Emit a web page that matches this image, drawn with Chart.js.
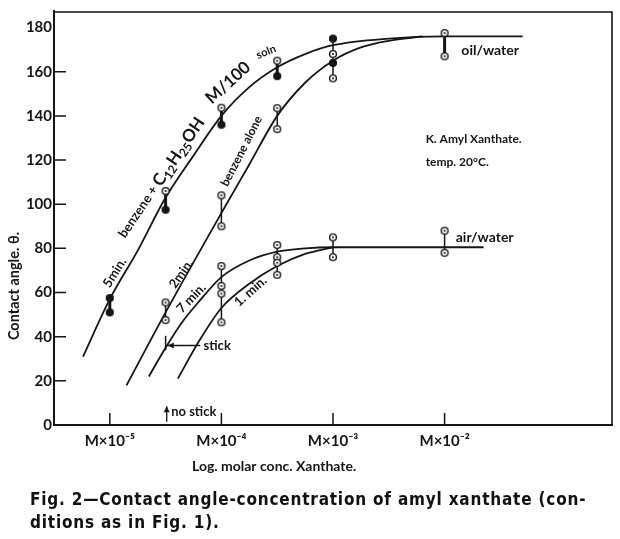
<!DOCTYPE html>
<html>
<head>
<meta charset="utf-8">
<script src="https://cdn.jsdelivr.net/npm/chart.js@4"></script>
<style>
  body { margin: 0; background: #fff; }
  #wrap { position: relative; width: 620px; height: 539px; }
  #caption {
    position: absolute; left: 30px; top: 488px;
    font: bold 17px "Liberation Sans Narrow", "DejaVu Sans Condensed", sans-serif;
    line-height: 23px; color: #111; letter-spacing: 0.8px; white-space: nowrap;
  }
</style>
</head>
<body>
<div id="wrap">
  <canvas id="angleChart" width="620" height="539"></canvas>
  <div id="caption">Fig. 2—Contact angle-concentration of amyl xanthate (con-<br>ditions as in Fig. 1).</div>
</div>
<script>
// x = log10 of molar conc. of xanthate, y = contact angle in degrees
const xTicks = [-5, -4, -3, -2];
const xTickLabels = ["M×10⁻⁵", "M×10⁻⁴", "M×10⁻³", "M×10⁻²"];
const yTicks = [0, 20, 40, 60, 80, 100, 120, 140, 160, 180];

// benzene + C12H25OH (M/100 soln), 5 min
const curve5minX = [-5.24, -5.0, -4.75, -4.5, -4.25, -4.0, -3.75, -3.5, -3.25, -3.0, -2.5, -2.0, -1.3];
const curve5minY = [31, 57, 79, 103, 122, 140, 153, 162, 168, 172, 175, 176, 176];
// benzene alone, 2 min
const curve2minX = [-4.85, -4.5, -4.0, -3.75, -3.5, -3.25, -3.0, -2.75, -2.5, -2.2];
const curve2minY = [18, 51, 96, 118, 140, 155, 165, 171, 174, 176];
// air/water, 7 min
const curve7minX = [-4.65, -4.5, -4.36, -4.2, -4.0, -3.75, -3.5, -3.25, -3.0, -2.0, -1.65];
const curve7minY = [22, 35, 46, 56, 67, 74.5, 78.5, 80, 80.5, 80.5, 80.5];
// air/water, 1 min
const curve1minX = [-4.39, -4.2, -4.0, -3.75, -3.5, -3.25, -3.0];
const curve1minY = [21, 38, 53, 64, 72, 77.5, 80.5];

// measured points
const filledX = [-5.0, -5.0, -4.5, -4.0, -3.5, -3.0, -3.0];
const filledY = [57.5, 51, 97.5, 136, 158, 175, 164];
const openX = [-4.5, -4.5, -4.5, -4.0, -4.0, -4.0, -4.0, -4.0, -4.0, -4.0,
               -3.5, -3.5, -3.5, -3.5, -3.5, -3.5, -3.5, -3.0, -3.0, -3.0, -3.0,
               -2.0, -2.0, -2.0, -2.0];
const openY = [106, 55.5, 47.5, 143.7, 104, 90, 72, 63, 59.5, 46.5,
               165, 143.5, 134, 81.5, 76, 73.5, 68, 168, 157, 85, 76,
               177.5, 167, 88, 78];

// vertical spread bars
const thickBarX = [-5.0, -4.5, -4.0, -3.5, -2.0];
const thickBarLow = [51, 97.5, 136, 158, 167];
const thickBarHigh = [57.5, 106, 143.7, 165, 177.5];
const thinBarX = [-3.0, -4.5, -4.0, -3.5, -4.0, -3.5, -3.0, -2.0, -4.5];
const thinBarLow = [157, 47.5, 90, 134, 46.5, 68, 76, 78, 33.8];
const thinBarHigh = [175, 55.5, 104, 143.5, 72, 81.5, 85, 88, 40.4];

const INK = "#151515";
const FONT = "Lato, 'DejaVu Sans', sans-serif";

function makeMarker(filled) {
  const c = document.createElement("canvas");
  c.width = 10; c.height = 10;
  const g = c.getContext("2d");
  g.beginPath(); g.arc(5, 5, 3.4, 0, Math.PI * 2);
  g.fillStyle = filled ? INK : "#fff"; g.fill();
  g.lineWidth = 1.4; g.strokeStyle = INK; g.stroke();
  if (!filled) {
    g.beginPath(); g.arc(5, 5, 1, 0, Math.PI * 2);
    g.fillStyle = INK; g.fill();
  }
  return c;
}

function pts(xs, ys) {
  return xs.map((x, i) => ({ x: x, y: ys[i] }));
}

function curve(xs, ys) {
  return {
    data: pts(xs, ys), showLine: true, pointRadius: 0,
    borderColor: INK, borderWidth: 1.8, cubicInterpolationMode: "monotone"
  };
}

function bars(xs, lows, highs, width) {
  return xs.map((x, i) => ({
    data: [{ x: x, y: lows[i] }, { x: x, y: highs[i] }],
    showLine: true, pointRadius: 0, borderColor: INK, borderWidth: width
  }));
}

const datasets = [
  { data: pts(filledX, filledY), pointStyle: makeMarker(true), pointRadius: 5 },
  { data: pts(openX, openY), pointStyle: makeMarker(false), pointRadius: 5 },
  ...bars(thickBarX, thickBarLow, thickBarHigh, 3),
  ...bars(thinBarX, thinBarLow, thinBarHigh, 1.5),
  curve(curve5minX, curve5minY),
  curve(curve2minX, curve2minY),
  curve(curve7minX, curve7minY),
  curve(curve1minX, curve1minY)
];

// rotated labels along the curves (in data coordinates)
const notes = [
  { parts: [["5min.", 13, 0]], x: -4.955, y: 69, rot: -58 },
  { parts: [["2min.", 13, 0]], x: -4.36, y: 68.5, rot: -55 },
  { parts: [["7 min.", 13, 0]], x: -4.27, y: 57.5, rot: -46 },
  { parts: [["1. min.", 13, 0]], x: -3.74, y: 60.5, rot: -42 },
  { parts: [["benzene alone", 12, 0]], x: -3.82, y: 124, rot: -63 },
  { parts: [["benzene + ", 13, 0], ["C", 17, 0], ["12", 12, 5], ["H", 17, 0], ["25", 12, 5], ["OH", 17, 0]],
    x: -4.54, y: 112, rot: -56 },
  { parts: [["M/100", 17, 0]], x: -3.94, y: 155, rot: -42 },
  { parts: [["soln", 11, 0]], x: -3.6, y: 169, rot: -22 }
];

function drawParts(ctx, parts) {
  let total = 0;
  parts.forEach(p => { ctx.font = "bold " + p[1] + "px " + FONT; total += ctx.measureText(p[0]).width; });
  let cx = -total / 2;
  parts.forEach(p => {
    ctx.font = "bold " + p[1] + "px " + FONT;
    ctx.fillText(p[0], cx, p[2]);
    cx += ctx.measureText(p[0]).width;
  });
}

const decorPlugin = {
  id: "decor",
  afterDatasetsDraw(chart) {
    const { ctx, chartArea: a, scales: { x, y } } = chart;
    ctx.save();
    ctx.strokeStyle = INK;
    ctx.fillStyle = INK;

    // top and right frame
    ctx.lineWidth = 1.6;
    ctx.beginPath();
    ctx.moveTo(a.left, a.top + 1); ctx.lineTo(a.right, a.top + 1); ctx.lineTo(a.right, a.bottom);
    ctx.stroke();

    // inward tick marks
    ctx.lineWidth = 1.5;
    ctx.beginPath();
    yTicks.forEach(v => {
      if (v === 0 || v === 180) return;
      const py = y.getPixelForValue(v);
      ctx.moveTo(a.left, py); ctx.lineTo(a.left + 12, py);
    });
    xTicks.forEach(v => {
      const px = x.getPixelForValue(v);
      ctx.moveTo(px, a.bottom); ctx.lineTo(px, a.bottom - 12);
    });
    ctx.stroke();

    // curve labels
    ctx.textAlign = "left";
    ctx.textBaseline = "middle";
    notes.forEach(n => {
      ctx.save();
      ctx.translate(x.getPixelForValue(n.x), y.getPixelForValue(n.y));
      ctx.rotate(n.rot * Math.PI / 180);
      drawParts(ctx, n.parts);
      ctx.restore();
    });

    ctx.font = "bold 14px " + FONT;
    ctx.fillText("oil/water", x.getPixelForValue(-1.85), y.getPixelForValue(169.5));
    ctx.fillText("air/water", x.getPixelForValue(-1.9), y.getPixelForValue(85));
    ctx.font = "bold 12px " + FONT;
    ctx.fillText("K. Amyl Xanthate.", x.getPixelForValue(-2.17), y.getPixelForValue(129.5));
    ctx.fillText("temp. 20°C.", x.getPixelForValue(-2.17), y.getPixelForValue(119));

    // stick / no stick
    ctx.font = "bold 13px " + FONT;
    ctx.fillText("stick", x.getPixelForValue(-4.16), y.getPixelForValue(36));
    ctx.fillText("no stick", x.getPixelForValue(-4.45), y.getPixelForValue(5.8));
    ctx.lineWidth = 1.3;
    const sy = y.getPixelForValue(36);
    const sx0 = x.getPixelForValue(-4.19), sx1 = x.getPixelForValue(-4.48);
    ctx.beginPath(); ctx.moveTo(sx0, sy); ctx.lineTo(sx1, sy); ctx.stroke();
    ctx.beginPath(); ctx.moveTo(sx1, sy); ctx.lineTo(sx1 + 6, sy - 3); ctx.lineTo(sx1 + 6, sy + 3); ctx.closePath(); ctx.fill();
    const ux = x.getPixelForValue(-4.49);
    const uy0 = y.getPixelForValue(1.5), uy1 = y.getPixelForValue(8.5);
    ctx.beginPath(); ctx.moveTo(ux, uy0); ctx.lineTo(ux, uy1); ctx.stroke();
    ctx.beginPath(); ctx.moveTo(ux, uy1); ctx.lineTo(ux - 3, uy1 + 6); ctx.lineTo(ux + 3, uy1 + 6); ctx.closePath(); ctx.fill();

    // axis titles
    ctx.font = "bold 14px " + FONT;
    ctx.textAlign = "left";
    ctx.fillText("Log. molar conc. Xanthate.", 192, 466);
    ctx.save();
    ctx.translate(14, 286);
    ctx.rotate(-Math.PI / 2);
    ctx.textAlign = "center";
    ctx.font = "bold 14.5px " + FONT;
    ctx.fillText("Contact angle. θ.", 0, 0);
    ctx.restore();

    ctx.restore();
  }
};

new Chart(document.getElementById("angleChart"), {
  type: "scatter",
  data: { datasets: datasets },
  options: {
    responsive: false,
    animation: false,
    events: [],
    layout: { padding: { left: 0, right: 8, top: 1, bottom: 0 } },
    plugins: { legend: { display: false }, tooltip: { enabled: false } },
    scales: {
      x: {
        type: "linear",
        min: -5.5,
        max: -0.5,
        afterBuildTicks: s => { s.ticks = xTicks.map(v => ({ value: v })); },
        afterFit: s => { s.height = 114; },
        grid: { drawOnChartArea: false, drawTicks: false },
        border: { display: true, color: INK, width: 2 },
        ticks: {
          autoSkip: false, maxRotation: 0, padding: 7, color: INK,
          font: { family: FONT, size: 15, weight: "bold" },
          callback: (v, i) => xTickLabels[i]
        }
      },
      y: {
        min: 0,
        max: 187.5,
        afterBuildTicks: s => { s.ticks = yTicks.map(v => ({ value: v })); },
        afterFit: s => { s.width = 54; },
        grid: { drawOnChartArea: false, drawTicks: false },
        border: { display: true, color: INK, width: 2 },
        ticks: {
          autoSkip: false, padding: 2, color: INK,
          font: { family: FONT, size: 15, weight: "bold" }
        }
      }
    }
  },
  plugins: [decorPlugin]
});
</script>
</body>
</html>
